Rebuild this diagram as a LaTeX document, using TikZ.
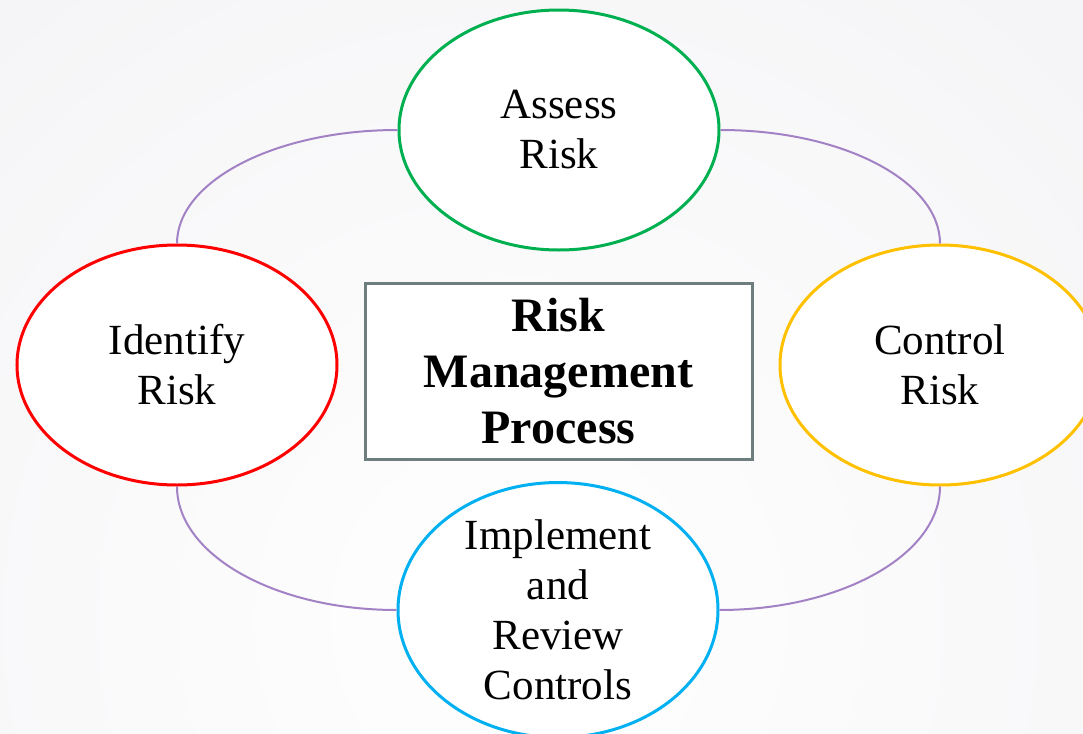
\documentclass[tikz,border=0pt]{standalone}
\usepackage{fontspec}
\setmainfont{Liberation Serif}
\usetikzlibrary{shapes.geometric}

\definecolor{stepgreen}{RGB}{0,176,80}
\definecolor{stepred}{RGB}{255,0,0}
\definecolor{stepgold}{RGB}{255,192,0}
\definecolor{stepblue}{RGB}{0,176,240}
\definecolor{ringline}{RGB}{162,130,196}
\definecolor{boxline}{RGB}{110,125,125}
\definecolor{bgedge}{RGB}{235,234,238}

\begin{document}
\begin{tikzpicture}[x=0.5pt,y=-0.5pt,
    stage/.style={ellipse, draw, line width=1.5pt, fill=white, minimum width=160pt,
      minimum height=120pt, inner sep=0pt, align=center,
      font=\fontsize{21.5}{25}\selectfont},
    ring/.style={draw=ringline, line width=1pt}]

  % page and soft background
  \useasboundingbox (0,0) rectangle (1083,734);
  \begin{scope}
    \clip (0,0) rectangle (1083,734);
    \shade[inner color=white, outer color=bgedge] (520,620) circle (1600);
  \end{scope}

  % the four stages
  \node[stage, draw=stepgreen] (assess) at (559,130) {Assess\\Risk};
  \node[stage, draw=stepred] (identify) at (177,365) {Identify\\Risk};
  \node[stage, draw=stepgold] (control) at (940,365) {Control\\Risk};
  \node[stage, draw=stepblue] (implement) at (558,610) {Implement\\and\\Review\\Controls};

  % cycle between them
  \draw[ring] (assess.west) .. controls +(-123,0) and +(0,-62) .. (identify.north);
  \draw[ring] (assess.east) .. controls +(123,0) and +(0,-62) .. (control.north);
  \draw[ring] (identify.south) .. controls +(0,68) and +(-122,0) .. (implement.west);
  \draw[ring] (control.south) .. controls +(0,68) and +(122,0) .. (implement.east);

  \node[draw=boxline, line width=1.5pt, fill=white, minimum width=193.5pt,
    minimum height=88pt, inner sep=0pt, align=center,
    font=\fontsize{24}{28}\selectfont\bfseries] (process) at (558.5,371)
    {Risk\\Management\\Process};

\end{tikzpicture}
\end{document}
